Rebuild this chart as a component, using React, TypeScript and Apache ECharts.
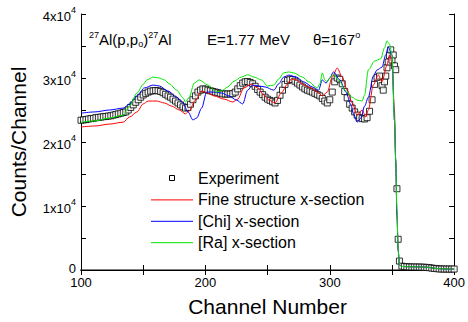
import React, { useEffect, useRef } from 'react';
import * as echarts from 'echarts';

// Experiment (channel, counts)
const expChannels = [
  100, 102, 104, 106, 108, 110, 112, 114, 116, 118, 120, 122, 124, 126, 128, 130, 132, 134, 136, 138,
  140, 142, 144, 146, 148, 150, 152, 154, 156, 158, 160, 162, 164, 166, 168, 170, 172, 174, 176, 178,
  180, 182, 184, 186, 188, 190, 192, 194, 196, 198, 200, 202, 204, 206, 208, 210, 212, 214, 216, 218,
  220, 222, 224, 226, 228, 230, 232, 234, 236, 238, 240, 242, 244, 246, 248, 250, 252, 254, 256, 258,
  260, 262, 264, 266, 268, 270, 272, 274, 276, 278, 280, 282, 284, 286, 288, 290, 292, 294, 296, 298,
  300, 302, 304, 306, 308, 310, 312, 314, 316, 318, 320, 322, 324, 326, 328, 330, 332, 334, 336, 338,
  340, 342, 343, 344, 345, 346, 347, 348, 349, 350, 351, 352, 353, 354, 355, 356, 358, 360, 362, 364,
  366, 368, 370, 372, 374, 376, 378, 380, 382, 384, 386, 388, 390, 392, 394, 396, 398, 400,
];
const expCounts = [
  23400, 23450, 23500, 23600, 23650, 23700, 23800, 23850, 23900, 23950, 24000, 24050, 24100, 24200, 24300, 24400, 24500, 24600, 24700, 25000,
  25400, 25800, 26200, 26600, 27000, 27350, 27600, 27800, 27950, 28000, 28050, 28000, 27900, 27700, 27450, 27200, 27000, 26700, 26400, 26100,
  25800, 25500, 25300, 25400, 25900, 26600, 27200, 27800, 28100, 28300, 28250, 28100, 28000, 27900, 27800, 27700, 27600, 27500, 27500, 27500,
  27500, 27550, 27800, 28300, 28800, 29200, 29400, 29450, 29300, 29100, 28700, 28200, 27800, 27400, 27000, 26700, 26500, 26300, 26100, 26500,
  27300, 28100, 29000, 29600, 29800, 29750, 29500, 29200, 28900, 28600, 28300, 28100, 27950, 27800, 27600, 27400, 27200, 26800, 26400, 26100,
  26600, 27800, 29400, 30000, 29800, 29100, 27900, 26900, 25900, 25300, 24700, 24200, 23800, 23650, 23600, 23800, 24800, 26600, 29000, 30100,
  30300, 28800, 28100, 29400, 30300, 31600, 32500, 33500, 34400, 32800, 33600, 31900, 31300, 12700, 4800, 1400, 600, 540, 510, 480,
  470, 465, 460, 455, 445, 430, 400, 360, 300, 250, 210, 170, 160, 150, 150, 145, 140, 150,
];

// Fine structure x-section
const redChannels = [
  100, 111, 123, 134, 139, 145, 150, 154, 161, 167, 173, 179, 184, 187, 192, 197, 202, 207, 215, 222,
  226, 231, 237, 242, 247, 251, 256, 261, 266, 269, 273, 278, 283, 290, 294, 298, 302, 306, 310, 314,
  318, 322, 326, 329, 331, 335, 339, 342, 346, 348, 350, 352, 353, 354, 355, 356,
];
const redCounts = [
  22350, 22500, 22800, 23100, 23900, 24700, 25950, 26400, 26400, 26100, 25600, 25000, 24400, 24850, 26550, 27950, 27650, 27200, 26700, 26250,
  26700, 28450, 29050, 28450, 27350, 26550, 26100, 27650, 29050, 29850, 29700, 29050, 28600, 27800, 27200, 27800, 30150, 31550, 30150, 28100,
  26100, 24200, 25000, 23900, 25000, 28900, 30450, 29400, 32000, 33600, 32500, 25000, 17200, 8600, 3100, 800,
];

// [Chi] x-section
const blueChannels = [
  100, 111, 123, 134, 139, 145, 151, 158, 163, 170, 177, 182, 186, 190, 193, 197, 201, 207, 213, 219,
  225, 230, 234, 238, 243, 248, 255, 259, 263, 267, 273, 279, 286, 291, 294, 297, 300, 303, 308, 313,
  317, 319, 322, 325, 328, 331, 335, 338, 342, 345, 347, 350, 352, 353, 354, 355, 356,
];
const blueCounts = [
  24500, 24700, 25000, 25300, 25950, 27200, 28450, 28900, 28750, 27950, 27000, 26100, 24700, 23450, 23750, 25300, 27800, 27800, 27650, 27200,
  26550, 25950, 28100, 28900, 28750, 28600, 28100, 29100, 30150, 30450, 30150, 29400, 28600, 28100, 29700, 29200, 30000, 30950, 29700, 27800,
  25800, 24400, 23100, 23750, 25600, 27000, 30300, 31250, 31700, 33600, 34850, 33600, 23400, 17200, 8600, 3100, 800,
];

// [Ra] x-section
const greenChannels = [
  100, 111, 123, 134, 139, 145, 150, 153, 158, 163, 167, 171, 177, 182, 184, 187, 191, 195, 202, 209,
  213, 218, 223, 229, 234, 239, 245, 250, 255, 259, 263, 267, 271, 278, 283, 290, 292, 294, 296, 298,
  300, 303, 307, 313, 318, 322, 326, 328, 331, 336, 341, 344, 346, 348, 350, 352, 353, 354, 355, 356,
];
const greenCounts = [
  23100, 23300, 23750, 24200, 25600, 27650, 29000, 29700, 30150, 30000, 29700, 29100, 28100, 26900, 26250, 27000, 29200, 29700, 28900, 27800,
  28000, 28600, 29500, 30150, 30500, 30150, 29700, 28750, 28900, 29850, 30800, 30950, 30800, 30150, 29400, 28450, 29100, 30800, 29700, 29400,
  30000, 30600, 29700, 28000, 27000, 26550, 26400, 27350, 31250, 32650, 33000, 34700, 35800, 35300, 33600, 23400, 17200, 9400, 3100, 800,
];

// common low tail of the calculated curves
const tailChannels = [358, 362, 366, 370, 374, 378, 382, 386, 390, 395, 400];
const tailCounts = [550, 520, 500, 490, 470, 440, 330, 230, 180, 160, 150];

const xLabelValues = [100, 200, 300, 400];
const yLabelValues = [0, 10000, 20000, 30000, 40000];

const seriesNames = ['Experiment', 'Fine structure x-section', '[Chi] x-section', '[Ra] x-section'];
const seriesColors = ['#000000', '#ff0000', '#0000ff', '#00e600'];

const FONT = '"Liberation Sans", Arial, Helvetica, sans-serif';

function pairs(xs: number[], ys: number[]) {
  return xs.map((x, i) => [x, ys[i]]);
}

export default function App() {
  const ref = useRef<HTMLDivElement>(null);

  useEffect(() => {
    document.body.style.margin = '0';
    const chart = echarts.init(ref.current!, null, { renderer: 'svg' });

    const lineSeries = (idx: number, xs: number[], ys: number[]) => ({
      name: seriesNames[idx],
      type: 'line',
      data: pairs([...xs, ...tailChannels], [...ys, ...tailCounts]),
      showSymbol: false,
      symbol: 'none',
      smooth: 0.3,
      smoothMonotone: 'x',
      lineStyle: { color: seriesColors[idx], width: 1 },
      itemStyle: { color: seriesColors[idx] },
      z: 3,
      silent: true,
    });

    const tickStyle = { inside: true, length: 5, lineStyle: { color: '#000', width: 1 } };

    chart.setOption({
      animation: false,
      grid: { left: 81, top: 14, right: 12, bottom: 52 },
      xAxis: [
        {
          type: 'value',
          min: 100,
          max: 400,
          interval: 50,
          position: 'bottom',
          axisLine: { lineStyle: { color: '#808080', width: 2 } },
          axisTick: tickStyle,
          splitLine: { show: false },
          axisLabel: {
            formatter: (v: number) => (xLabelValues.includes(v) ? String(v) : ''),
            color: '#000',
            fontSize: 13,
            fontFamily: FONT,
            margin: 6,
          },
          name: 'Channel Number',
          nameLocation: 'middle',
          nameGap: 26,
          nameTextStyle: { fontSize: 21, color: '#000', fontFamily: FONT },
        },
        {
          type: 'value',
          min: 100,
          max: 400,
          interval: 50,
          position: 'top',
          axisLine: { lineStyle: { color: '#000', width: 1 } },
          axisTick: tickStyle,
          axisLabel: { show: false },
          splitLine: { show: false },
        },
      ],
      yAxis: [
        {
          type: 'value',
          min: 0,
          max: 40000,
          interval: 5000,
          position: 'left',
          axisLine: { show: true, lineStyle: { color: '#000', width: 1 } },
          axisTick: { show: true, ...tickStyle },
          splitLine: { show: false },
          axisLabel: {
            formatter: (v: number) => {
              if (!yLabelValues.includes(v)) return '';
              if (v === 0) return '{z|0}';
              return `{b|${v / 10000}x10}{s|4}`;
            },
            color: '#000',
            fontFamily: FONT,
            margin: 5,
            rich: {
              z: { fontSize: 13, lineHeight: 14, padding: [0, 0, 3, 0], fontFamily: FONT, color: '#000' },
              b: { fontSize: 13, lineHeight: 14, padding: [6, 0, 0, 0], verticalAlign: 'bottom', fontFamily: FONT, color: '#000' },
              s: { fontSize: 9, lineHeight: 18, verticalAlign: 'top', fontFamily: FONT, color: '#000' },
            },
          },
          name: 'Counts/Channel',
          nameLocation: 'middle',
          nameGap: 52,
          nameRotate: 90,
          nameTextStyle: { fontSize: 21, color: '#000', fontFamily: FONT },
        },
        {
          type: 'value',
          min: 0,
          max: 40000,
          interval: 5000,
          position: 'right',
          axisLine: { show: true, lineStyle: { color: '#000', width: 1 } },
          axisTick: { show: true, ...tickStyle },
          axisLabel: { show: false },
          splitLine: { show: false },
        },
      ],
      series: [
        {
          name: seriesNames[0],
          type: 'scatter',
          data: pairs(expChannels, expCounts),
          symbol: 'rect',
          symbolSize: 6,
          itemStyle: { color: '#ffffff', borderColor: '#000000', borderWidth: 1 },
          z: 2,
          silent: true,
        },
        lineSeries(1, redChannels, redCounts),
        lineSeries(2, blueChannels, blueCounts),
        lineSeries(3, greenChannels, greenCounts),
      ],
      graphic: [
        {
          type: 'text',
          x: 89,
          y: 39,
          style: {
            text: '{sup|27}{n|Al(p,p}{sub|o}{n|)}{sup|27}{n|Al}',
            align: 'left',
            verticalAlign: 'middle',
            rich: {
              n: { fontSize: 15, lineHeight: 18, fontFamily: FONT, fill: '#000' },
              sup: { fontSize: 9, lineHeight: 9, verticalAlign: 'top', fontFamily: FONT, fill: '#000' },
              sub: { fontSize: 9, lineHeight: 9, verticalAlign: 'bottom', fontFamily: FONT, fill: '#000' },
            },
          },
        },
        {
          type: 'text',
          x: 207,
          y: 39,
          style: { text: 'E=1.77 MeV', fontSize: 15, fontFamily: FONT, fill: '#000', align: 'left', verticalAlign: 'middle' },
        },
        {
          type: 'text',
          x: 313,
          y: 39,
          style: {
            text: '{n|\u03B8=167}{sup|o}',
            align: 'left',
            verticalAlign: 'middle',
            rich: {
              n: { fontSize: 15, lineHeight: 18, fontFamily: FONT, fill: '#000' },
              sup: { fontSize: 9, lineHeight: 9, verticalAlign: 'top', fontFamily: FONT, fill: '#000' },
            },
          },
        },
        // legend
        {
          type: 'rect',
          shape: { x: 169.5, y: 175.5, width: 5, height: 5 },
          style: { fill: '#fff', stroke: '#000', lineWidth: 1 },
        },
        {
          type: 'text',
          x: 198,
          y: 178.5,
          style: { text: seriesNames[0], fontSize: 16, fontFamily: FONT, fill: '#000', align: 'left', verticalAlign: 'middle' },
        },
        ...[1, 2, 3].map((i) => ({
          type: 'group',
          children: [
            {
              type: 'line',
              shape: { x1: 151, y1: 178.5 + i * 21.4, x2: 193, y2: 178.5 + i * 21.4 },
              style: { stroke: seriesColors[i], lineWidth: 1 },
            },
            {
              type: 'text',
              x: 198,
              y: 178.5 + i * 21.4,
              style: { text: seriesNames[i], fontSize: 16, fontFamily: FONT, fill: '#000', align: 'left', verticalAlign: 'middle' },
            },
          ],
        })),
      ],
    });

    return () => chart.dispose();
  }, []);

  return <div ref={ref} style={{ width: 468, height: 322, background: '#fff' }} />;
}
